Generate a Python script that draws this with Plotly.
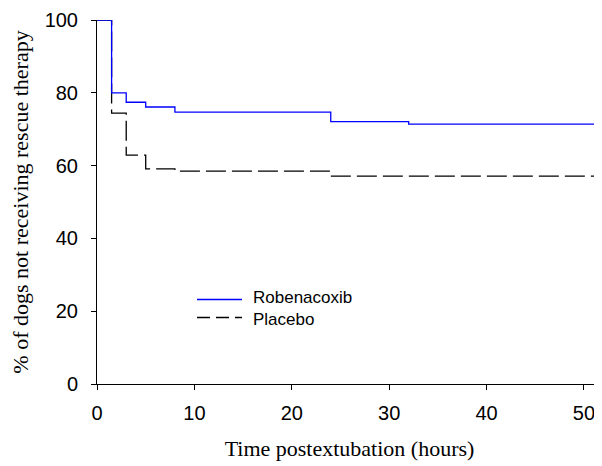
import plotly.graph_objects as go

# Kaplan-Meier style step data (time in hours, % not receiving rescue therapy)
robenacoxib_t = [0, 1.5, 3, 5, 8, 24, 32, 51.9]
robenacoxib_y = [100, 80.0, 77.4, 76.1, 74.7, 72.1, 71.4, 71.4]
placebo_t = [0, 1.5, 3, 5, 8, 24, 51.9]
placebo_y = [100, 74.4, 62.9, 59.1, 58.5, 57.1, 57.1]

x_ticks = [0, 10, 20, 30, 40, 50]
y_ticks = [0, 20, 40, 60, 80, 100]

# page body has an 8px margin; figure is sized to fill the remaining window
OFF = 8
W, H = 602 - OFF, 466 - OFF
ml, mt = 97 - OFF, 20 - OFF
pw, ph = 505, 364
mr = W - ml - pw
mb = H - mt - ph

fig = go.Figure()
fig.add_trace(go.Scatter(x=placebo_t, y=placebo_y, mode="lines", line_shape="hv",
                         line=dict(color="black", width=1.3, dash="20px,6px"),
                         name="Placebo", showlegend=False))
fig.add_trace(go.Scatter(x=robenacoxib_t, y=robenacoxib_y, mode="lines", line_shape="hv",
                         line=dict(color="#0000FF", width=1.3),
                         name="Robenacoxib", showlegend=False))

# Manual legend (pixel positions in page coords)
def py(ypix):
    return 1 - (ypix - OFF - mt) / ph

def px(xpix):
    return (xpix - OFF - ml) / pw

legend_items = [("Robenacoxib", "#0000FF", "solid", 299.5, "bottom"),
                ("Placebo", "black", "13px,6px", 317.5, "top")]
boundary = 308.5
for label, color, dash, ypix, anchor in legend_items:
    fig.add_shape(type="line", xref="paper", yref="paper", x0=px(197), x1=px(242),
                  y0=py(ypix), y1=py(ypix), line=dict(color=color, width=1.3, dash=dash))
    fig.add_annotation(xref="paper", yref="paper", x=px(252), y=py(boundary - 0.5 if anchor == "bottom" else boundary + 0.5),
                       text=label, showarrow=False, xanchor="left", yanchor=anchor, borderpad=0,
                       font=dict(family="Liberation Sans, Arial", size=17, color="black"))

fig.update_layout(
    width=W, height=H,
    margin=dict(l=ml, r=mr, t=mt, b=mb),
    plot_bgcolor="white", paper_bgcolor="white",
    showlegend=False,
    font=dict(family="Liberation Sans, Arial", color="black"),
)
fig.update_xaxes(range=[0, 51.85], tickvals=x_ticks, ticks="outside", ticklen=5,
                 tickcolor="black", showline=True, linecolor="black", linewidth=1,
                 showgrid=False, zeroline=False, ticklabelstandoff=6,
                 tickfont=dict(family="Liberation Sans, Arial", size=20),
                 title=dict(text="Time postextubation (hours)", standoff=17,
                            font=dict(family="Liberation Serif, Times New Roman", size=22)))
fig.update_yaxes(range=[0, 100], tickvals=y_ticks, ticks="outside", ticklen=5,
                 tickcolor="black", showline=True, linecolor="black", linewidth=1,
                 showgrid=False, zeroline=False, ticklabelstandoff=9,
                 tickfont=dict(family="Liberation Sans, Arial", size=20),
                 title=dict(text="% of dogs not receiving rescue therapy", standoff=16,
                            font=dict(family="Liberation Serif, Times New Roman", size=22)))

fig.write_html("out.html")
